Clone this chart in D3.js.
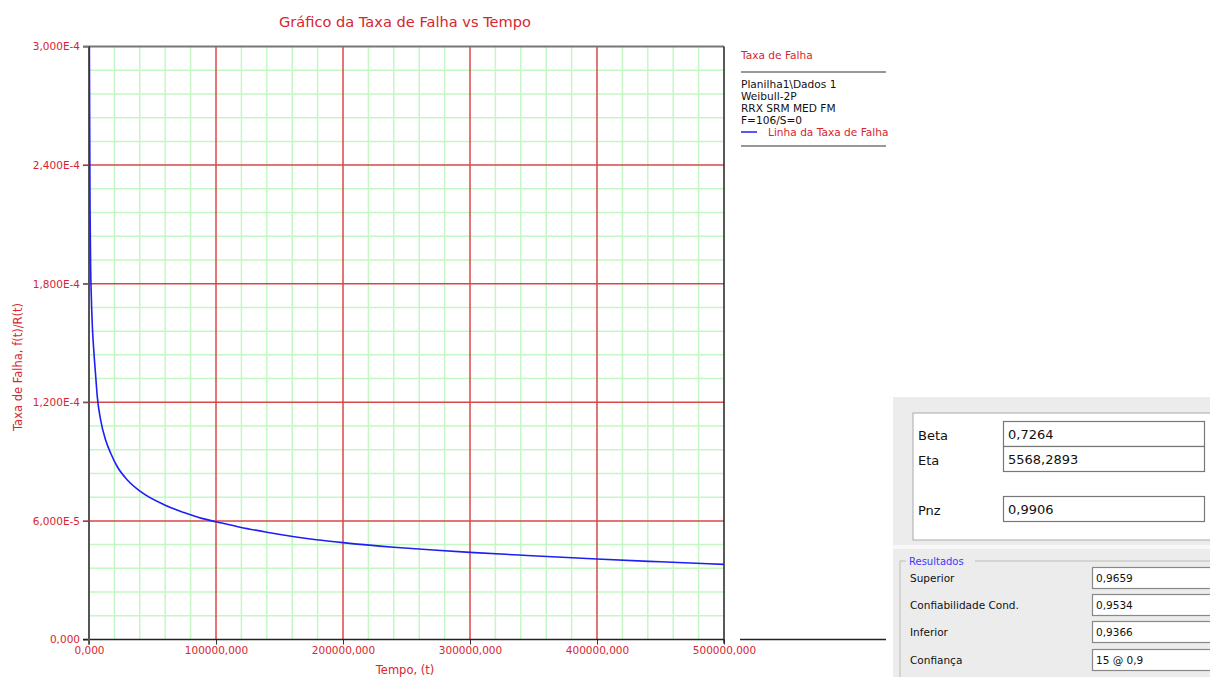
<!DOCTYPE html>
<html>
<head>
<meta charset="utf-8">
<script src="https://cdn.jsdelivr.net/npm/d3@7"></script>
<style>
  body { margin: 0; background: #fff; }
  svg { display: block; font-family: "DejaVu Sans", sans-serif; }
</style>
</head>
<body>
<svg id="chart" width="1210" height="677"></svg>
<script>
// ---------- data ----------
const chartTitle = "Gráfico da Taxa de Falha vs Tempo";
const xTitle = "Tempo, (t)";
const yTitle = "Taxa de Falha, f(t)/R(t)";
const xTickValues = [0, 100000, 200000, 300000, 400000, 500000];
const xTickLabels = ["0,000", "100000,000", "200000,000", "300000,000", "400000,000", "500000,000"];
const yTickValues = [0, 6e-5, 1.2e-4, 1.8e-4, 2.4e-4, 3e-4];
const yTickLabels = ["0,000", "6,000E-5", "1,200E-4", "1,800E-4", "2,400E-4", "3,000E-4"];
const times = [250, 800, 1300, 1800, 2600, 3900, 5300, 6500, 9200, 13100, 17100, 22300, 30200, 40700,
  59100, 74800, 88000, 100000, 119000, 140000, 179000, 200000, 240000, 271000, 300000, 345000,
  400000, 450000, 500000];
const rates = [3.05e-4, 2.2e-4, 1.88e-4, 1.74e-4, 1.59e-4, 1.45e-4, 1.33e-4, 1.23e-4, 1.11e-4, 1.009e-4,
  9.42e-5, 8.74e-5, 8.07e-5, 7.48e-5, 6.82e-5, 6.42e-5, 6.14e-5, 5.96e-5, 5.68e-5, 5.43e-5, 5.05e-5,
  4.90e-5, 4.67e-5, 4.53e-5, 4.41e-5, 4.25e-5, 4.07e-5, 3.93e-5, 3.80e-5];
const legendTitle = "Taxa de Falha";
const legendInfo = ["Planilha1\\Dados 1", "Weibull-2P", "RRX SRM MED FM", "F=106/S=0"];
const seriesName = "Linha da Taxa de Falha";
const paramLabels = ["Beta", "Eta", "Pnz"];
const paramValues = ["0,7264", "5568,2893", "0,9906"];
const groupTitle = "Resultados";
const resultLabels = ["Superior", "Confiabilidade Cond.", "Inferior", "Confiança"];
const resultValues = ["0,9659", "0,9534", "0,9366", "15 @ 0,9"];

// ---------- layout ----------
const svg = d3.select("#chart");
const L = 89, R = 724, T = 46.5, B = 639.5;
const x = d3.scaleLinear().domain([0, 500000]).range([L, R]);
const y = d3.scaleLinear().domain([0, 3e-4]).range([B, T]);
const red = "#d8252f";

// minor grid
const xMinor = d3.range(0, 26).map(i => i * 20000).filter(v => !xTickValues.includes(v));
const yMinor = d3.range(0, 26).map(i => i * 1.2e-5).filter((v, i) => i % 5 !== 0);
const grid = svg.append("g");
grid.selectAll(".vx").data(xMinor).join("line")
  .attr("x1", d => x(d)).attr("x2", d => x(d)).attr("y1", T).attr("y2", B)
  .attr("stroke", "#c4f7c4").attr("stroke-width", 1.5);
grid.selectAll(".hy").data(yMinor).join("line")
  .attr("x1", L).attr("x2", R).attr("y1", d => y(d)).attr("y2", d => y(d))
  .attr("stroke", "#c4f7c4").attr("stroke-width", 1.5);
// major grid
grid.selectAll(".mx").data(xTickValues.slice(1, -1)).join("line")
  .attr("x1", d => x(d)).attr("x2", d => x(d)).attr("y1", T).attr("y2", B)
  .attr("stroke", "#d94848").attr("stroke-width", 1.5);
grid.selectAll(".my").data(yTickValues.slice(1, -1)).join("line")
  .attr("x1", L - 6).attr("x2", R).attr("y1", d => y(d)).attr("y2", d => y(d))
  .attr("stroke", "#d94848").attr("stroke-width", 1.5);

// axes
const yAxis = svg.append("g").attr("transform", `translate(${L},0)`)
  .call(d3.axisLeft(y).tickValues(yTickValues).tickFormat((d, i) => yTickLabels[i]).tickSize(6).tickPadding(3));
yAxis.select(".domain").remove();
yAxis.selectAll("line").attr("stroke", "#555");
yAxis.selectAll("text").attr("fill", red).attr("font-size", "10.5px").attr("font-family", "DejaVu Sans");

const xAxis = svg.append("g").attr("transform", `translate(0,${B})`)
  .call(d3.axisBottom(x).tickValues(xTickValues).tickFormat((d, i) => xTickLabels[i]).tickSize(5).tickPadding(2));
xAxis.select(".domain").remove();
xAxis.selectAll("line").attr("stroke", "#333");
xAxis.selectAll("text").attr("fill", red).attr("font-size", "10.5px").attr("font-family", "DejaVu Sans");

// frame
svg.append("line").attr("x1", L - 6).attr("x2", R).attr("y1", T).attr("y2", T).attr("stroke", "#777").attr("stroke-width", 2);
svg.append("line").attr("x1", R).attr("x2", R).attr("y1", T).attr("y2", B + 4).attr("stroke", "#222").attr("stroke-width", 1.5);
svg.append("line").attr("x1", L - 6).attr("x2", R).attr("y1", B).attr("y2", B).attr("stroke", "#222").attr("stroke-width", 1.5);
svg.append("line").attr("x1", L).attr("x2", L).attr("y1", T).attr("y2", B + 5).attr("stroke", "#555").attr("stroke-width", 2);
svg.append("line").attr("x1", 740).attr("x2", 886).attr("y1", B).attr("y2", B).attr("stroke", "#222").attr("stroke-width", 1.5);

// curve
svg.append("clipPath").attr("id", "clip").append("rect")
  .attr("x", L).attr("y", T).attr("width", R - L).attr("height", B - T);
const line = d3.line().x((d, i) => x(times[i])).y((d, i) => y(rates[i])).curve(d3.curveMonotoneX);
svg.append("path").datum(rates).attr("clip-path", "url(#clip)")
  .attr("d", line).attr("fill", "none").attr("stroke", "#1f1ff5").attr("stroke-width", 1.6);

// titles
svg.append("text").attr("x", 405).attr("y", 27).attr("text-anchor", "middle")
  .attr("fill", red).attr("font-size", "14.6px").text(chartTitle);
svg.append("text").attr("x", 405).attr("y", 674).attr("text-anchor", "middle")
  .attr("fill", red).attr("font-size", "11.5px").text(xTitle);
svg.append("text").attr("transform", "translate(22,367) rotate(-90)").attr("text-anchor", "middle")
  .attr("fill", red).attr("font-size", "11.5px").text(yTitle);

// legend
const lg = svg.append("g").attr("font-size", "10.6px");
lg.append("text").attr("x", 741).attr("y", 59).attr("fill", red).text(legendTitle);
lg.append("line").attr("x1", 741).attr("x2", 886).attr("y1", 72).attr("y2", 72).attr("stroke", "#333").attr("stroke-width", 1.2);
lg.selectAll(".info").data(legendInfo).join("text")
  .attr("x", 741).attr("y", (d, i) => 88 + i * 12).attr("fill", "#111").text(d => d);
lg.append("line").attr("x1", 741).attr("x2", 757).attr("y1", 132).attr("y2", 132).attr("stroke", "#1f1ff5").attr("stroke-width", 1.5);
lg.append("text").attr("x", 768).attr("y", 136).attr("fill", red).text(seriesName);
lg.append("line").attr("x1", 741).attr("x2", 886).attr("y1", 146).attr("y2", 146).attr("stroke", "#333").attr("stroke-width", 1.2);

// parameter panel
const pp = svg.append("g");
pp.append("rect").attr("x", 893).attr("y", 397).attr("width", 317).attr("height", 280).attr("fill", "#ececec");
pp.append("rect").attr("x", 913).attr("y", 413).attr("width", 300).attr("height", 127)
  .attr("fill", "#fff").attr("stroke", "#aaa").attr("stroke-width", 1);
const boxY = [421, 446, 496];
paramLabels.forEach((lab, i) => {
  pp.append("text").attr("x", 918).attr("y", boxY[i] + 19).attr("font-size", "13px").attr("fill", "#111").text(lab);
  pp.append("rect").attr("x", 1003.5).attr("y", boxY[i] + 0.5).attr("width", 201).attr("height", 25)
    .attr("fill", "#fff").attr("stroke", "#777").attr("stroke-width", 1.2);
  pp.append("text").attr("x", 1008).attr("y", boxY[i] + 18).attr("font-size", "13px").attr("fill", "#111").text(paramValues[i]);
});
pp.append("rect").attr("x", 893).attr("y", 545).attr("width", 317).attr("height", 4).attr("fill", "#f8f8f8");
// group box
pp.append("path").attr("d", "M906,561 L900,561 L900,677 M975,561 L1212,561")
  .attr("fill", "none").attr("stroke", "#bbb");
pp.append("text").attr("x", 909).attr("y", 565).attr("font-size", "10px").attr("fill", "#3a3aff").text(groupTitle);
const resY = [567, 594, 621, 649];
resultLabels.forEach((lab, i) => {
  pp.append("text").attr("x", 910).attr("y", resY[i] + 15).attr("font-size", "10.5px").attr("fill", "#111").text(lab);
  pp.append("rect").attr("x", 1092.5).attr("y", resY[i] + 0.5).attr("width", 125).attr("height", 21)
    .attr("fill", "#fff").attr("stroke", "#888").attr("stroke-width", 1.2);
  pp.append("text").attr("x", 1096).attr("y", resY[i] + 15).attr("font-size", "10.5px").attr("fill", "#111").text(resultValues[i]);
});
</script>
</body>
</html>
